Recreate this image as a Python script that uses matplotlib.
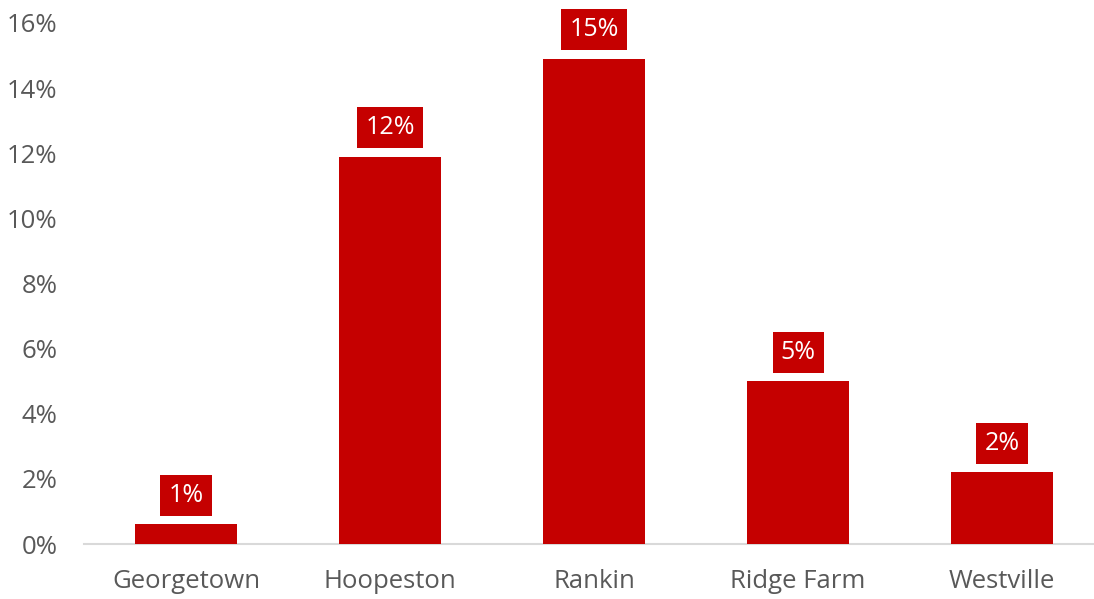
import matplotlib
matplotlib.use("Agg")
import matplotlib.pyplot as plt
from matplotlib.ticker import PercentFormatter

towns = ["Georgetown", "Hoopeston", "Rankin", "Ridge Farm", "Westville"]
shares = [0.006, 0.119, 0.149, 0.050, 0.022]
y_ticks = [0.00, 0.02, 0.04, 0.06, 0.08, 0.10, 0.12, 0.14, 0.16]

BAR_RED = "#C50000"
TEXT_GREY = "#595959"
AXIS_GREY = "#D9D9D9"

plt.rcParams["font.family"] = ["Open Sans", "DejaVu Sans"]

fig = plt.figure(figsize=(10.94, 5.99), dpi=100)
ax = fig.add_axes([84 / 1094, 55 / 599, 1020 / 1094, 521 / 599])

x = range(len(towns))
ax.bar(x, shares, width=0.5, color=BAR_RED, zorder=3)

for xi, val in zip(x, shares):
    ax.annotate(f"{val:.0%}", xy=(xi, val), xytext=(0, 29),
                textcoords="offset pixels", ha="center", va="center",
                color="white", fontsize=18,
                bbox=dict(boxstyle="square,pad=0.32", fc=BAR_RED, ec="none"))

ax.set_xlim(-0.5, 4.5)
ax.set_ylim(0, 0.16)
ax.set_yticks(y_ticks)
ax.yaxis.set_major_formatter(PercentFormatter(1.0, decimals=0))
ax.set_xticks(list(x))
ax.set_xticklabels(towns)

for side in ("left", "right", "top"):
    ax.spines[side].set_visible(False)
ax.spines["bottom"].set_color(AXIS_GREY)
ax.spines["bottom"].set_linewidth(1.5)

ax.tick_params(axis="both", length=0, colors=TEXT_GREY, labelsize=18.5)
ax.tick_params(axis="y", pad=19)
ax.tick_params(axis="x", pad=18)

fig.savefig("out.png", dpi=100)
